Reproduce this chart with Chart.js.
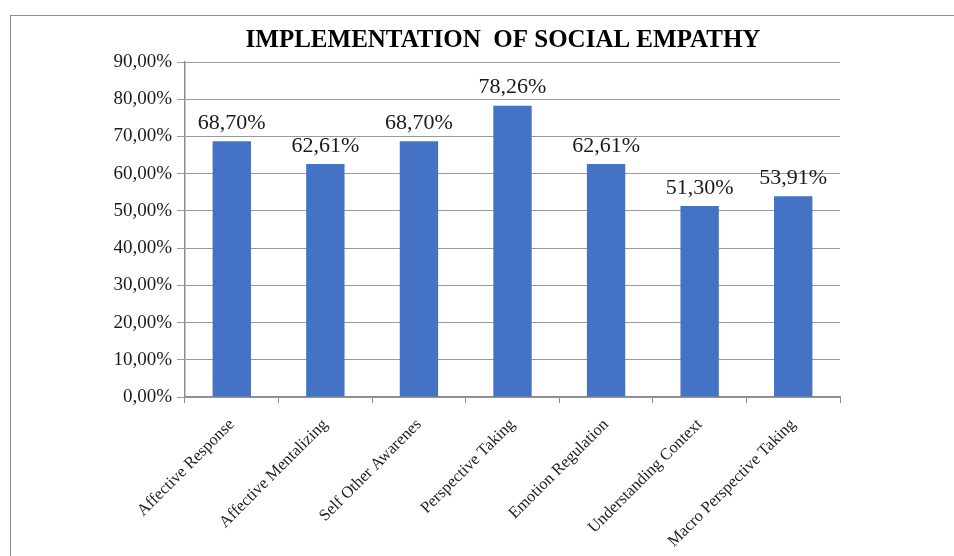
<!DOCTYPE html>
<html>
<head>
<meta charset="utf-8">
<script src="https://cdn.jsdelivr.net/npm/chart.js@4/dist/chart.umd.min.js"></script>
<style>
  body { margin: 0; background: #fff; }
  #wrap { position: relative; width: 954px; height: 556px; overflow: hidden; }
  #frame { position: absolute; left: 10px; top: 15px; width: 1000px; height: 600px;
           border-left: 1px solid #8c8c8c; border-top: 1px solid #8c8c8c; }
  #chart { position: absolute; left: 0; top: 0; }
</style>
</head>
<body>
<div id="wrap">
  <div id="frame"></div>
  <canvas id="chart" width="954" height="556"></canvas>
</div>
<script>
const categories = ['Affective Response', 'Affective Mentalizing', 'Self Other Awarenes', 'Perspective Taking',
  'Emotion Regulation', 'Understanding Context', 'Macro Perspective Taking']
const percentages = [68.70, 62.61, 68.70, 78.26, 62.61, 51.30, 53.91]
const yTicks = [0, 10, 20, 30, 40, 50, 60, 70, 80, 90]
const chartTitle = 'IMPLEMENTATION  OF SOCIAL EMPATHY'

const serif = '"Liberation Serif", "Times New Roman", serif'
const fmt = v => v.toFixed(2).replace('.', ',') + '%'

// value above each bar + title, drawn on the canvas
const valueLabels = {
  id: 'valueLabels',
  afterDatasetsDraw(chart) {
    const ctx = chart.ctx
    const meta = chart.getDatasetMeta(0)
    ctx.save()
    ctx.font = '22px ' + serif
    ctx.fillStyle = '#1a1a1a'
    ctx.textAlign = 'center'
    ctx.textBaseline = 'bottom'
    meta.data.forEach((bar, i) => {
      ctx.fillText(fmt(percentages[i]), bar.x, bar.y - 7)
    })
    ctx.font = 'bold 25px ' + serif
    ctx.fillStyle = '#000'
    ctx.textBaseline = 'middle'
    ctx.fillText(chartTitle, 503, 41)
    ctx.restore()
  }
}

new Chart(document.getElementById('chart'), {
  type: 'bar',
  data: {
    labels: categories,
    datasets: [{
      label: 'Implementation',
      data: percentages,
      backgroundColor: '#4472C4',
      categoryPercentage: 1,
      barPercentage: 0.41
    }]
  },
  options: {
    responsive: false,
    animation: false,
    layout: { padding: { left: 0, right: 114, top: 62, bottom: 0 } },
    plugins: {
      legend: { display: false },
      tooltip: { enabled: false },
      title: { display: false }
    },
    scales: {
      x: {
        afterFit: s => { s.height = 159 },
        grid: { drawOnChartArea: false, drawTicks: true, tickLength: 6, color: '#8c8c8c', offset: true },
        border: { color: '#8c8c8c', width: 1.5 },
        ticks: {
          maxRotation: 45, minRotation: 45,
          padding: 12,
          color: '#222',
          font: { family: serif, size: 16.5 }
        }
      },
      y: {
        min: 0,
        max: 90,
        afterFit: s => { s.width = 185 },
        afterBuildTicks: s => { s.ticks = yTicks.map(v => ({ value: v })) },
        grid: { color: '#9a9a9a', tickLength: 8 },
        border: { color: '#8c8c8c', width: 1.5 },
        ticks: {
          padding: 5,
          color: '#1a1a1a',
          font: { family: serif, size: 19 },
          callback: v => fmt(v)
        }
      }
    }
  },
  plugins: [valueLabels]
})
</script>
</body>
</html>
